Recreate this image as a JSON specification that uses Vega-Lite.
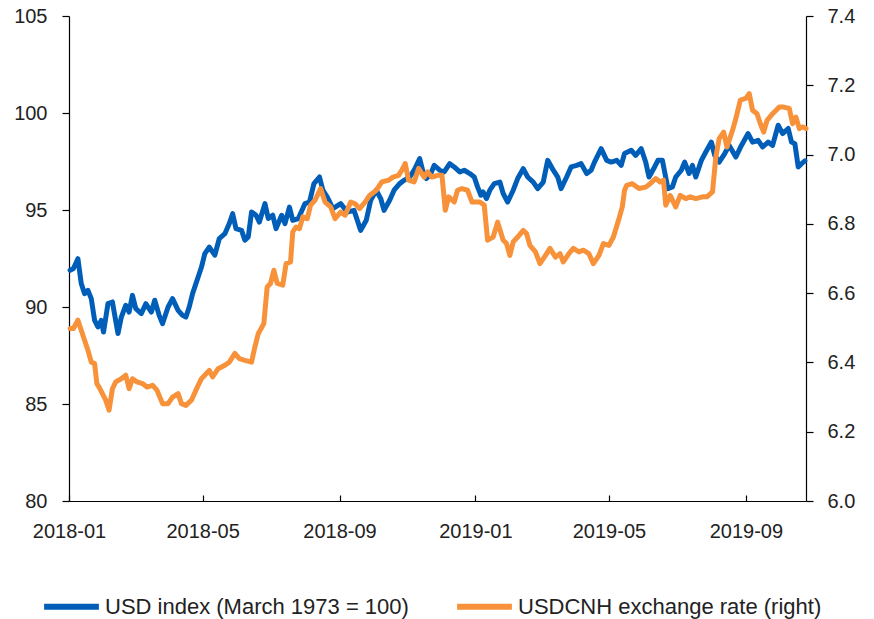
{
  "$schema": "https://vega.github.io/schema/vega-lite/v6.json",
  "width": 737,
  "height": 485,
  "autosize": {"type": "none"},
  "padding": {"left": 69, "top": 16, "right": 68, "bottom": 118},
  "background": "white",
  "config": {
    "view": {"stroke": null},
    "font": "Liberation Sans",
    "axis": {"grid": false, "domainColor": "#000000", "domainWidth": 1.2, "tickColor": "#000000", "tickWidth": 1.2, "labelColor": "#222222", "labelFontSize": 20, "labelFont": "Liberation Sans", "title": null}
  },
  "datasets": {
    "usd": [
      {"date":"2018-01-02","value":91.89},{"date":"2018-01-05","value":91.98},{"date":"2018-01-09","value":92.49},{"date":"2018-01-12","value":91.21},{"date":"2018-01-15","value":90.69},{"date":"2018-01-18","value":90.86},{"date":"2018-01-21","value":90.43},{"date":"2018-01-24","value":89.31},{"date":"2018-01-27","value":88.97},{"date":"2018-01-30","value":89.31},
      {"date":"2018-02-01","value":88.71},{"date":"2018-02-05","value":90.17},{"date":"2018-02-09","value":90.26},{"date":"2018-02-14","value":88.63},{"date":"2018-02-17","value":89.48},{"date":"2018-02-21","value":90.09},{"date":"2018-02-24","value":89.74},{"date":"2018-02-27","value":90.60},
      {"date":"2018-03-02","value":89.92},{"date":"2018-03-07","value":89.66},{"date":"2018-03-11","value":90.17},{"date":"2018-03-16","value":89.74},{"date":"2018-03-19","value":90.35},{"date":"2018-03-23","value":89.57},{"date":"2018-03-26","value":89.14},{"date":"2018-03-31","value":90.00},
      {"date":"2018-04-04","value":90.43},{"date":"2018-04-09","value":89.83},{"date":"2018-04-13","value":89.57},{"date":"2018-04-16","value":89.48},{"date":"2018-04-19","value":90.00},{"date":"2018-04-22","value":90.69},{"date":"2018-04-27","value":91.55},{"date":"2018-04-30","value":92.06},
      {"date":"2018-05-03","value":92.75},{"date":"2018-05-07","value":93.09},{"date":"2018-05-12","value":92.67},{"date":"2018-05-16","value":93.53},{"date":"2018-05-21","value":93.78},{"date":"2018-05-25","value":94.30},{"date":"2018-05-28","value":94.81},{"date":"2018-05-31","value":94.04},
      {"date":"2018-06-05","value":93.95},{"date":"2018-06-08","value":93.44},{"date":"2018-06-11","value":93.61},{"date":"2018-06-14","value":94.90},{"date":"2018-06-18","value":94.73},{"date":"2018-06-21","value":94.38},{"date":"2018-06-26","value":95.33},{"date":"2018-06-29","value":94.56},
      {"date":"2018-07-03","value":94.73},{"date":"2018-07-06","value":94.04},{"date":"2018-07-11","value":94.73},{"date":"2018-07-14","value":94.30},{"date":"2018-07-18","value":95.15},{"date":"2018-07-21","value":94.47},{"date":"2018-07-26","value":94.56},
      {"date":"2018-08-01","value":95.33},{"date":"2018-08-05","value":95.41},{"date":"2018-08-09","value":96.36},{"date":"2018-08-14","value":96.70},{"date":"2018-08-17","value":96.02},{"date":"2018-08-21","value":95.67},{"date":"2018-08-26","value":95.07},
      {"date":"2018-09-02","value":95.33},{"date":"2018-09-08","value":94.90},{"date":"2018-09-14","value":94.98},{"date":"2018-09-20","value":93.95},{"date":"2018-09-25","value":94.47},{"date":"2018-09-29","value":95.50},
      {"date":"2018-10-04","value":96.02},{"date":"2018-10-08","value":95.59},{"date":"2018-10-11","value":94.98},{"date":"2018-10-16","value":95.50},{"date":"2018-10-20","value":96.02},{"date":"2018-10-25","value":96.36},{"date":"2018-10-29","value":96.53},
      {"date":"2018-11-03","value":96.70},{"date":"2018-11-07","value":97.05},{"date":"2018-11-12","value":97.65},{"date":"2018-11-15","value":96.96},{"date":"2018-11-18","value":96.62},{"date":"2018-11-22","value":96.88},{"date":"2018-11-25","value":97.30},{"date":"2018-11-30","value":97.05},
      {"date":"2018-12-04","value":96.96},{"date":"2018-12-09","value":97.39},{"date":"2018-12-13","value":97.22},{"date":"2018-12-18","value":96.96},{"date":"2018-12-22","value":97.05},{"date":"2018-12-27","value":96.88},{"date":"2018-12-31","value":96.70},
      {"date":"2019-01-03","value":96.19},{"date":"2019-01-06","value":95.76},{"date":"2019-01-08","value":95.93},{"date":"2019-01-11","value":95.59},{"date":"2019-01-14","value":96.02},{"date":"2019-01-18","value":96.36},{"date":"2019-01-23","value":96.44},{"date":"2019-01-26","value":95.85},{"date":"2019-01-30","value":95.41},
      {"date":"2019-02-04","value":96.02},{"date":"2019-02-08","value":96.62},{"date":"2019-02-13","value":97.13},{"date":"2019-02-17","value":96.70},{"date":"2019-02-22","value":96.44},{"date":"2019-02-26","value":96.10},
      {"date":"2019-03-03","value":96.44},{"date":"2019-03-07","value":97.56},{"date":"2019-03-12","value":97.05},{"date":"2019-03-16","value":96.70},{"date":"2019-03-19","value":96.10},{"date":"2019-03-24","value":96.70},{"date":"2019-03-28","value":97.22},
      {"date":"2019-04-02","value":97.30},{"date":"2019-04-06","value":97.39},{"date":"2019-04-11","value":96.88},{"date":"2019-04-15","value":97.05},{"date":"2019-04-18","value":97.47},{"date":"2019-04-24","value":98.16},{"date":"2019-04-29","value":97.56},
      {"date":"2019-05-03","value":97.47},{"date":"2019-05-08","value":97.56},{"date":"2019-05-12","value":97.30},{"date":"2019-05-15","value":97.91},{"date":"2019-05-21","value":98.08},{"date":"2019-05-25","value":97.82},{"date":"2019-05-30","value":98.16},
      {"date":"2019-06-03","value":97.47},{"date":"2019-06-06","value":96.70},{"date":"2019-06-11","value":97.22},{"date":"2019-06-14","value":97.56},{"date":"2019-06-18","value":97.56},{"date":"2019-06-23","value":96.10},{"date":"2019-06-27","value":96.19},{"date":"2019-06-30","value":96.70},
      {"date":"2019-07-05","value":97.05},{"date":"2019-07-08","value":97.47},{"date":"2019-07-12","value":96.88},{"date":"2019-07-15","value":97.30},{"date":"2019-07-18","value":96.70},{"date":"2019-07-23","value":97.56},{"date":"2019-07-27","value":97.99},
      {"date":"2019-08-01","value":98.50},{"date":"2019-08-04","value":97.82},{"date":"2019-08-08","value":97.47},{"date":"2019-08-13","value":97.91},{"date":"2019-08-17","value":98.33},{"date":"2019-08-23","value":97.73},{"date":"2019-08-28","value":98.33},
      {"date":"2019-09-03","value":98.94},{"date":"2019-09-07","value":98.50},{"date":"2019-09-12","value":98.59},{"date":"2019-09-16","value":98.25},{"date":"2019-09-21","value":98.50},{"date":"2019-09-25","value":98.33},{"date":"2019-09-30","value":99.37},
      {"date":"2019-10-04","value":98.94},{"date":"2019-10-09","value":99.20},{"date":"2019-10-12","value":98.50},{"date":"2019-10-15","value":98.42},{"date":"2019-10-18","value":97.22},{"date":"2019-10-21","value":97.39},{"date":"2019-10-24","value":97.53}
    ],
    "cnh": [
      {"date":"2018-01-02","value":6.498},{"date":"2018-01-05","value":6.498},{"date":"2018-01-09","value":6.522},{"date":"2018-01-12","value":6.493},{"date":"2018-01-15","value":6.464},{"date":"2018-01-18","value":6.435},{"date":"2018-01-21","value":6.401},{"date":"2018-01-24","value":6.397},{"date":"2018-01-26","value":6.339},{"date":"2018-01-28","value":6.329},{"date":"2018-01-31","value":6.310},
      {"date":"2018-02-03","value":6.291},{"date":"2018-02-06","value":6.262},{"date":"2018-02-09","value":6.324},{"date":"2018-02-12","value":6.344},{"date":"2018-02-17","value":6.353},{"date":"2018-02-21","value":6.363},{"date":"2018-02-24","value":6.324},{"date":"2018-02-27","value":6.353},
      {"date":"2018-03-03","value":6.344},{"date":"2018-03-08","value":6.339},{"date":"2018-03-12","value":6.329},{"date":"2018-03-17","value":6.334},{"date":"2018-03-21","value":6.320},{"date":"2018-03-26","value":6.281},{"date":"2018-03-31","value":6.281},
      {"date":"2018-04-04","value":6.300},{"date":"2018-04-09","value":6.310},{"date":"2018-04-12","value":6.281},{"date":"2018-04-16","value":6.276},{"date":"2018-04-21","value":6.291},{"date":"2018-04-25","value":6.320},{"date":"2018-04-30","value":6.353},
      {"date":"2018-05-07","value":6.377},{"date":"2018-05-10","value":6.358},{"date":"2018-05-15","value":6.382},{"date":"2018-05-21","value":6.392},{"date":"2018-05-25","value":6.401},{"date":"2018-05-30","value":6.426},
      {"date":"2018-06-03","value":6.411},{"date":"2018-06-08","value":6.406},{"date":"2018-06-14","value":6.401},{"date":"2018-06-17","value":6.445},{"date":"2018-06-20","value":6.483},{"date":"2018-06-25","value":6.512},{"date":"2018-06-28","value":6.618},
      {"date":"2018-07-01","value":6.628},{"date":"2018-07-04","value":6.666},{"date":"2018-07-07","value":6.628},{"date":"2018-07-12","value":6.623},{"date":"2018-07-15","value":6.685},{"date":"2018-07-19","value":6.690},{"date":"2018-07-21","value":6.777},{"date":"2018-07-24","value":6.791},{"date":"2018-07-27","value":6.786},{"date":"2018-07-30","value":6.820},
      {"date":"2018-08-03","value":6.815},{"date":"2018-08-06","value":6.854},{"date":"2018-08-10","value":6.868},{"date":"2018-08-15","value":6.902},{"date":"2018-08-19","value":6.863},{"date":"2018-08-24","value":6.849},{"date":"2018-08-28","value":6.815},
      {"date":"2018-09-02","value":6.834},{"date":"2018-09-06","value":6.825},{"date":"2018-09-11","value":6.863},{"date":"2018-09-15","value":6.858},{"date":"2018-09-19","value":6.844},{"date":"2018-09-24","value":6.863},{"date":"2018-09-28","value":6.882},
      {"date":"2018-10-04","value":6.897},{"date":"2018-10-09","value":6.921},{"date":"2018-10-15","value":6.926},{"date":"2018-10-19","value":6.935},{"date":"2018-10-24","value":6.940},{"date":"2018-10-27","value":6.955},{"date":"2018-10-30","value":6.974},
      {"date":"2018-11-02","value":6.926},{"date":"2018-11-07","value":6.921},{"date":"2018-11-11","value":6.960},{"date":"2018-11-16","value":6.935},{"date":"2018-11-19","value":6.950},{"date":"2018-11-23","value":6.935},{"date":"2018-11-28","value":6.940},
      {"date":"2018-12-02","value":6.940},{"date":"2018-12-05","value":6.839},{"date":"2018-12-08","value":6.878},{"date":"2018-12-13","value":6.863},{"date":"2018-12-16","value":6.897},{"date":"2018-12-20","value":6.902},{"date":"2018-12-25","value":6.897},{"date":"2018-12-29","value":6.863},
      {"date":"2019-01-02","value":6.863},{"date":"2019-01-05","value":6.863},{"date":"2019-01-09","value":6.854},{"date":"2019-01-12","value":6.753},{"date":"2019-01-17","value":6.762},{"date":"2019-01-21","value":6.805},{"date":"2019-01-26","value":6.753},{"date":"2019-01-29","value":6.743},
      {"date":"2019-02-01","value":6.709},{"date":"2019-02-04","value":6.748},{"date":"2019-02-08","value":6.762},{"date":"2019-02-13","value":6.781},{"date":"2019-02-16","value":6.772},{"date":"2019-02-19","value":6.738},{"date":"2019-02-24","value":6.719},{"date":"2019-02-28","value":6.685},
      {"date":"2019-03-05","value":6.709},{"date":"2019-03-09","value":6.729},{"date":"2019-03-14","value":6.704},{"date":"2019-03-18","value":6.714},{"date":"2019-03-21","value":6.690},{"date":"2019-03-26","value":6.714},{"date":"2019-03-30","value":6.729},
      {"date":"2019-04-04","value":6.719},{"date":"2019-04-08","value":6.724},{"date":"2019-04-13","value":6.714},{"date":"2019-04-17","value":6.685},{"date":"2019-04-22","value":6.709},{"date":"2019-04-26","value":6.743},
      {"date":"2019-05-01","value":6.738},{"date":"2019-05-05","value":6.762},{"date":"2019-05-10","value":6.815},{"date":"2019-05-13","value":6.849},{"date":"2019-05-15","value":6.897},{"date":"2019-05-17","value":6.911},{"date":"2019-05-22","value":6.916},{"date":"2019-05-28","value":6.902},
      {"date":"2019-06-03","value":6.906},{"date":"2019-06-07","value":6.916},{"date":"2019-06-12","value":6.931},{"date":"2019-06-16","value":6.921},{"date":"2019-06-19","value":6.926},{"date":"2019-06-21","value":6.854},{"date":"2019-06-25","value":6.882},{"date":"2019-06-30","value":6.849},
      {"date":"2019-07-04","value":6.882},{"date":"2019-07-09","value":6.873},{"date":"2019-07-13","value":6.878},{"date":"2019-07-18","value":6.873},{"date":"2019-07-24","value":6.878},{"date":"2019-07-28","value":6.878},
      {"date":"2019-08-02","value":6.892},{"date":"2019-08-05","value":6.993},{"date":"2019-08-08","value":7.046},{"date":"2019-08-12","value":7.065},{"date":"2019-08-15","value":7.022},{"date":"2019-08-20","value":7.070},{"date":"2019-08-23","value":7.104},{"date":"2019-08-27","value":7.157},
      {"date":"2019-09-01","value":7.162},{"date":"2019-09-04","value":7.176},{"date":"2019-09-07","value":7.128},{"date":"2019-09-11","value":7.118},{"date":"2019-09-14","value":7.089},{"date":"2019-09-17","value":7.065},{"date":"2019-09-20","value":7.099},{"date":"2019-09-25","value":7.118},
      {"date":"2019-10-01","value":7.137},{"date":"2019-10-05","value":7.137},{"date":"2019-10-10","value":7.133},{"date":"2019-10-13","value":7.089},{"date":"2019-10-16","value":7.108},{"date":"2019-10-19","value":7.075},{"date":"2019-10-22","value":7.080},{"date":"2019-10-25","value":7.075}
    ]
  },
  "encoding": {
    "x": {
      "field": "date",
      "type": "temporal",
      "scale": {"type": "utc", "domain": ["2018-01-01", "2019-10-25"]},
      "axis": {
        "values": ["2018-01-01", "2018-05-01", "2018-09-01", "2019-01-01", "2019-05-01", "2019-09-01"],
        "format": "%Y-%m",
        "tickSize": -6,
        "labelPadding": 26,
        "labelFlush": false,
        "labelOverlap": false
      }
    }
  },
  "layer": [
    {
      "data": {"name": "usd"},
      "mark": {"type": "line", "strokeWidth": 5, "strokeJoin": "round", "strokeCap": "round"},
      "encoding": {
        "y": {
          "field": "value",
          "type": "quantitative",
          "scale": {"domain": [80, 105], "zero": false, "nice": false},
          "axis": {"orient": "left", "values": [80, 85, 90, 95, 100, 105], "tickSize": 7, "labelPadding": 15}
        },
        "color": {
          "datum": "USD index (March 1973 = 100)",
          "type": "nominal",
          "scale": {"domain": ["USD index (March 1973 = 100)", "USDCNH exchange rate (right)"], "range": ["#005EB8", "#F7923A"]},
          "legend": {
            "title": null,
            "orient": "none",
            "legendX": -28,
            "legendY": 560,
            "direction": "horizontal",
            "symbolType": "stroke",
            "symbolSize": 3000,
            "symbolStrokeWidth": 6,
            "labelFontSize": 22,
            "labelFont": "Liberation Sans",
            "labelColor": "#222222",
            "labelOffset": 3,
            "columnPadding": 36,
            "labelLimit": 400
          }
        }
      }
    },
    {
      "data": {"name": "cnh"},
      "mark": {"type": "line", "strokeWidth": 5, "strokeJoin": "round", "strokeCap": "round"},
      "encoding": {
        "y": {
          "field": "value",
          "type": "quantitative",
          "scale": {"domain": [6.0, 7.4], "zero": false, "nice": false},
          "axis": {"orient": "right", "values": [6.0, 6.2, 6.4, 6.6, 6.8, 7.0, 7.2, 7.4], "format": ".1f", "tickSize": 7, "labelPadding": 14}
        },
        "color": {"datum": "USDCNH exchange rate (right)", "type": "nominal"}
      }
    }
  ],
  "resolve": {"scale": {"y": "independent"}, "axis": {"y": "independent"}}
}
